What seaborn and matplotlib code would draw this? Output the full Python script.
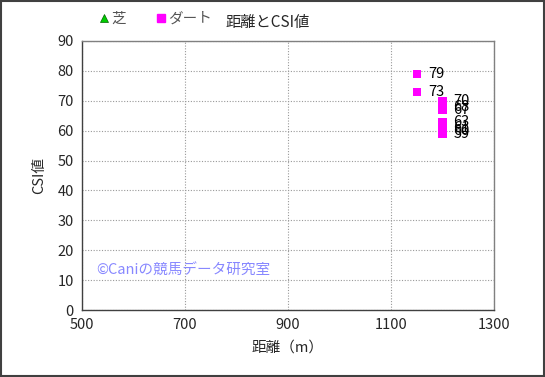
import pandas as pd
import numpy as np
import matplotlib.pyplot as plt
import seaborn as sns
from matplotlib.lines import Line2D

# data (芝 has no points)
turf_dist = []
turf_csi = []
dirt_dist = [1150, 1150, 1200, 1200, 1200, 1200, 1200, 1200, 1200]
dirt_csi = [79, 73, 70, 68, 67, 63, 61, 60, 59]

x_ticks = [500, 700, 900, 1100, 1300]
y_ticks = list(range(0, 91, 10))

df = pd.DataFrame({"dist": dirt_dist, "csi": dirt_csi})

sns.set_style("white")
plt.rcParams['font.family'] = ['Noto Sans CJK JP', 'DejaVu Sans']

fig = plt.figure(figsize=(5.45, 3.77), dpi=100)
ax = fig.add_axes([82 / 545, 67 / 377, 412 / 545, 269 / 377])

sns.scatterplot(data=df, x="dist", y="csi", marker="s", color="#ff00ff",
                s=36, edgecolor="none", ax=ax, zorder=3)
for d, c in zip(dirt_dist, dirt_csi):
    ax.annotate(str(c), (d, c), xytext=(8, 0), textcoords="offset points",
                va="center", ha="left", fontsize=10.5, color="black")

ax.set_xlim(500, 1300)
ax.set_ylim(0, 90)
ax.set_xticks(x_ticks)
ax.set_yticks(y_ticks)
ax.tick_params(labelsize=10.5, length=0, pad=6)
ax.grid(True, color="#999999", linestyle=(0, (1, 1.5)), linewidth=0.8)
for sp in ax.spines.values():
    sp.set_color("#808080")
    sp.set_linewidth(1)
ax.spines['bottom'].set_color("#404040")
ax.spines['left'].set_color("#404040")
ax.set_xlabel("距離（m）", fontsize=10.5, labelpad=6)
ax.set_ylabel("CSI値", fontsize=10.5, labelpad=8)

ax.text(0.035, 0.145, "©Caniの競馬データ研究室", transform=ax.transAxes,
        fontsize=10.5, color="#8888ff", ha="left", va="center")

# legend + title at top
handles = [Line2D([], [], marker="^", color="#00cc00", markeredgecolor="#006600",
                  markeredgewidth=0.5, linestyle="none", markersize=6),
           Line2D([], [], marker="s", color="#ff00ff", linestyle="none", markersize=6)]
fig.legend(handles, ["芝", "ダート"], loc="center left", bbox_to_anchor=(97 / 545, 1 - 19 / 377),
           ncol=2, frameon=False, fontsize=10.5, handletextpad=0.0, columnspacing=1.9,
           labelcolor="#555555", handlelength=1.0, borderaxespad=0, borderpad=0)
fig.text(268 / 545, 1 - 23 / 377, "距離とCSI値", ha="center", va="center", fontsize=11)

# outer border
fig.patches.append(plt.Rectangle((0.002, 0.003), 0.996, 0.994, transform=fig.transFigure,
                                 fill=False, edgecolor="#404040", linewidth=1.5))

fig.savefig("out.png", dpi=100)
